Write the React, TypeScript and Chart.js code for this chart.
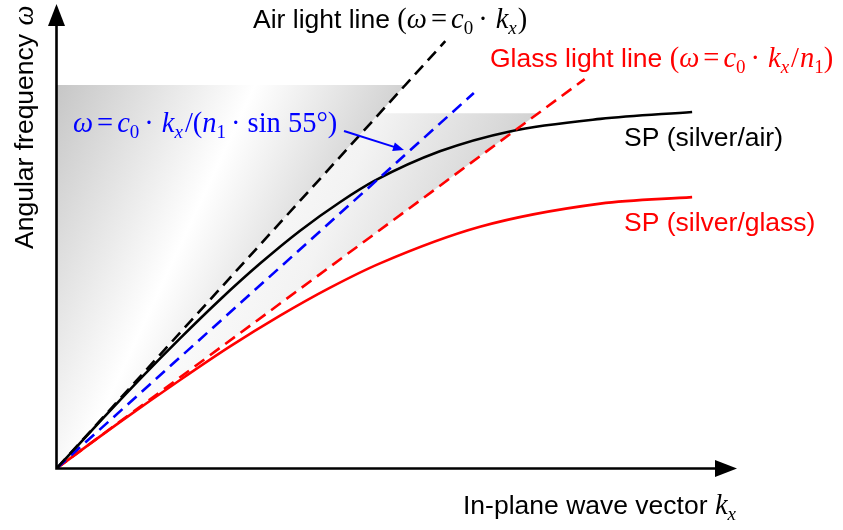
import React, { useEffect, useRef } from "react";
import { Chart, registerables } from "chart.js";

Chart.register(...registerables);

// ---- data (normalized units: k_x and ω both on 0..10) ----
const kAxisMax = 10;
const wAxisMax = 10;

const airLightK = [0, 5.71];
const airLightW = [0, 9.22];
const glassLightK = [0, 7.76];
const glassLightW = [0, 8.4];
const prismLineK = [0, 6.13];
const prismLineW = [0, 8.1];

const spAirK = [0, 0.63, 1.22, 1.81, 2.4, 2.99, 3.57, 4.16, 4.68, 5.63, 6.66, 7.99, 9.34];
const spAirW = [0, 1.0, 1.92, 2.8, 3.64, 4.42, 5.12, 5.74, 6.21, 6.84, 7.27, 7.54, 7.69];
const spGlassK = [0, 0.93, 1.81, 2.54, 3.28, 4.01, 4.75, 6.22, 7.99, 9.34];
const spGlassW = [0, 0.995, 1.9, 2.62, 3.29, 3.89, 4.42, 5.21, 5.71, 5.85];

const shadeUpperW = 8.27;
const shadeLowerW = 7.66;

const toPts = (xs: number[], ys: number[]) => xs.map((x, i) => ({ x, y: ys[i] }));

const SANS = '"Liberation Sans", Arial, sans-serif';
const SERIF = '"Liberation Serif", "Times New Roman", serif';
const SANS_SIZE = 26.5;
const SERIF_SIZE = 28.5;
const SUB_SIZE = 19;

type Run = { t: string; f: "sans" | "serif" | "serifI"; sub?: boolean; pre?: number };

function drawRuns(ctx: CanvasRenderingContext2D, x: number, y: number, runs: Run[], color: string) {
  ctx.save();
  ctx.fillStyle = color;
  ctx.textBaseline = "alphabetic";
  ctx.textAlign = "left";
  let cx = x;
  for (const r of runs) {
    const sz = r.sub ? SUB_SIZE : r.f === "sans" ? SANS_SIZE : SERIF_SIZE;
    const fam = r.f === "sans" ? SANS : SERIF;
    const style = r.f === "serifI" ? "italic " : "";
    ctx.font = `${style}${sz}px ${fam}`;
    cx += r.pre || 0;
    ctx.fillText(r.t, cx, y + (r.sub ? 6 : 0));
    cx += ctx.measureText(r.t).width;
  }
  ctx.restore();
}

const airLabel: Run[] = [
  { t: "Air light line ", f: "sans" },
  { t: "(", f: "serif" },
  { t: "ω", f: "serifI" },
  { t: "=", f: "serif", pre: 4 },
  { t: "c", f: "serifI", pre: 4 },
  { t: "0", f: "serif", sub: true },
  { t: "·", f: "serif", pre: 5 },
  { t: "k", f: "serifI", pre: 8 },
  { t: "x", f: "serifI", sub: true },
  { t: ")", f: "serif", pre: 1 },
];
const glassLabel: Run[] = [
  { t: "Glass light line ", f: "sans" },
  { t: "(", f: "serif" },
  { t: "ω", f: "serifI" },
  { t: "=", f: "serif", pre: 4 },
  { t: "c", f: "serifI", pre: 4 },
  { t: "0", f: "serif", sub: true },
  { t: "·", f: "serif", pre: 5 },
  { t: "k", f: "serifI", pre: 8 },
  { t: "x", f: "serifI", sub: true },
  { t: "/", f: "serif", pre: 2 },
  { t: "n", f: "serifI", pre: 1 },
  { t: "1", f: "serif", sub: true },
  { t: ")", f: "serif" },
];
const prismLabel: Run[] = [
  { t: "ω", f: "serifI" },
  { t: "=", f: "serif", pre: 4 },
  { t: "c", f: "serifI", pre: 4 },
  { t: "0", f: "serif", sub: true },
  { t: "·", f: "serif", pre: 5 },
  { t: "k", f: "serifI", pre: 8 },
  { t: "x", f: "serifI", sub: true },
  { t: "/(", f: "serif", pre: 2 },
  { t: "n", f: "serifI" },
  { t: "1", f: "serif", sub: true },
  { t: "·", f: "serif", pre: 5 },
  { t: "sin 55°)", f: "serif", pre: 7 },
];

function arrowHead(ctx: CanvasRenderingContext2D, tx: number, ty: number, ang: number, len: number, half: number) {
  ctx.beginPath();
  ctx.moveTo(tx, ty);
  ctx.lineTo(tx - len * Math.cos(ang) + half * Math.sin(ang), ty - len * Math.sin(ang) - half * Math.cos(ang));
  ctx.lineTo(tx - len * Math.cos(ang) - half * Math.sin(ang), ty - len * Math.sin(ang) + half * Math.cos(ang));
  ctx.closePath();
  ctx.fill();
}

const shadePlugin = {
  id: "shade",
  beforeDatasetsDraw(chart: any) {
    const { ctx, scales } = chart;
    const xs = scales.x, ys = scales.y;
    const px = (v: number) => xs.getPixelForValue(v);
    const py = (v: number) => ys.getPixelForValue(v);
    const airSlope = airLightW[1] / airLightK[1];
    const glassSlope = glassLightW[1] / glassLightK[1];
    const dx = 0.906, dy = 0.423;
    const grad = (p0: number, p1: number, stops: [number, string][]) => {
      const g = ctx.createLinearGradient(p0 * dx, p0 * dy, p1 * dx, p1 * dy);
      stops.forEach(([o, c]) => g.addColorStop(o, c));
      return g;
    };
    ctx.save();
    // region 1: left of air light line
    ctx.beginPath();
    ctx.moveTo(px(0), py(0));
    ctx.lineTo(px(0), py(shadeUpperW));
    ctx.lineTo(px(shadeUpperW / airSlope), py(shadeUpperW));
    ctx.closePath();
    ctx.fillStyle = grad(87, 403, [[0, "#c6c6c6"], [0.57, "#ffffff"], [1, "#d2d2d2"]]);
    ctx.fill();
    // region 2: between air and glass light lines
    ctx.beginPath();
    ctx.moveTo(px(0), py(0));
    ctx.lineTo(px(shadeLowerW / airSlope), py(shadeLowerW));
    ctx.lineTo(px(shadeLowerW / glassSlope), py(shadeLowerW));
    ctx.closePath();
    ctx.fillStyle = grad(250, 535, [[0, "#ffffff"], [0.5, "#f3f3f3"], [1, "#d2d2d2"]]);
    ctx.fill();
    ctx.restore();
  },
  afterDatasetsDraw(chart: any) {
    const { ctx, chartArea } = chart;
    const ox = chartArea.left - 0.5;
    const oy = chartArea.bottom + 0.5;
    ctx.save();
    ctx.strokeStyle = "#000";
    ctx.fillStyle = "#000";
    ctx.lineWidth = 2.6;
    ctx.beginPath();
    ctx.moveTo(ox, oy + 1.3);
    ctx.lineTo(ox, chartArea.top + 18);
    ctx.moveTo(ox - 1.3, oy);
    ctx.lineTo(chartArea.right - 18, oy);
    ctx.stroke();
    arrowHead(ctx, ox, chartArea.top - 1, -Math.PI / 2, 22, 8.5);
    arrowHead(ctx, chartArea.right, oy, 0, 22, 8.5);

    // labels
    drawRuns(ctx, 253, 28, airLabel, "#000");
    drawRuns(ctx, 490, 67, glassLabel, "#ff0000");
    drawRuns(ctx, 73, 132, prismLabel, "#0000ff");
    drawRuns(ctx, 624, 146, [{ t: "SP (silver/air)", f: "sans" }], "#000");
    drawRuns(ctx, 624, 231, [{ t: "SP (silver/glass)", f: "sans" }], "#ff0000");
    drawRuns(ctx, 463, 514, [{ t: "In-plane wave vector ", f: "sans" }, { t: "k", f: "serifI" }, { t: "x", f: "serifI", sub: true }], "#000");
    ctx.save();
    ctx.translate(33, 249);
    ctx.rotate(-Math.PI / 2);
    drawRuns(ctx, 0, 0, [{ t: "Angular frequency ", f: "sans" }, { t: "ω", f: "serifI", pre: 1 }], "#000");
    ctx.restore();

    // blue pointer arrow
    ctx.strokeStyle = "#0000ff";
    ctx.fillStyle = "#0000ff";
    ctx.lineWidth = 2;
    const ax0 = 344, ay0 = 131, ax1 = 404, ay1 = 150;
    const ang = Math.atan2(ay1 - ay0, ax1 - ax0);
    ctx.beginPath();
    ctx.moveTo(ax0, ay0);
    ctx.lineTo(ax1 - 8 * Math.cos(ang), ay1 - 8 * Math.sin(ang));
    ctx.stroke();
    arrowHead(ctx, ax1, ay1, ang, 11, 4.5);
    ctx.restore();
  },
};

export default function App() {
  const ref = useRef<HTMLCanvasElement | null>(null);
  useEffect(() => {
    if (!ref.current) return;
    const dashed = (data: any, color: string) => ({
      data,
      borderColor: color,
      borderWidth: 2.6,
      borderDash: [12, 7],
      pointRadius: 0,
      showLine: true,
      fill: false,
      clip: false as any,
    });
    const solid = (data: any, color: string) => ({
      data,
      borderColor: color,
      borderWidth: 2.6,
      pointRadius: 0,
      showLine: true,
      fill: false,
      cubicInterpolationMode: "monotone" as const,
      clip: false as any,
    });
    const chart = new Chart(ref.current, {
      type: "scatter",
      data: {
        datasets: [
          dashed(toPts(airLightK, airLightW), "#000000"),
          dashed(toPts(prismLineK, prismLineW), "#0000ff"),
          dashed(toPts(glassLightK, glassLightW), "#ff0000"),
          solid(toPts(spAirK, spAirW), "#000000"),
          solid(toPts(spGlassK, spGlassW), "#ff0000"),
        ] as any,
      },
      options: {
        responsive: false,
        animation: false,
        devicePixelRatio: 1,
        layout: { padding: { left: 57, right: 106, top: 5, bottom: 62 } },
        plugins: { legend: { display: false }, tooltip: { enabled: false } },
        events: [],
        scales: {
          x: { type: "linear", min: 0, max: kAxisMax, display: false },
          y: { type: "linear", min: 0, max: wAxisMax, display: false },
        },
      },
      plugins: [shadePlugin],
    });
    return () => chart.destroy();
  }, []);
  return (
    <div style={{ position: "absolute", left: 0, top: 0, width: 843, height: 530, background: "#fff" }}>
      <canvas ref={ref} width={843} height={530} style={{ display: "block" }} />
    </div>
  );
}
